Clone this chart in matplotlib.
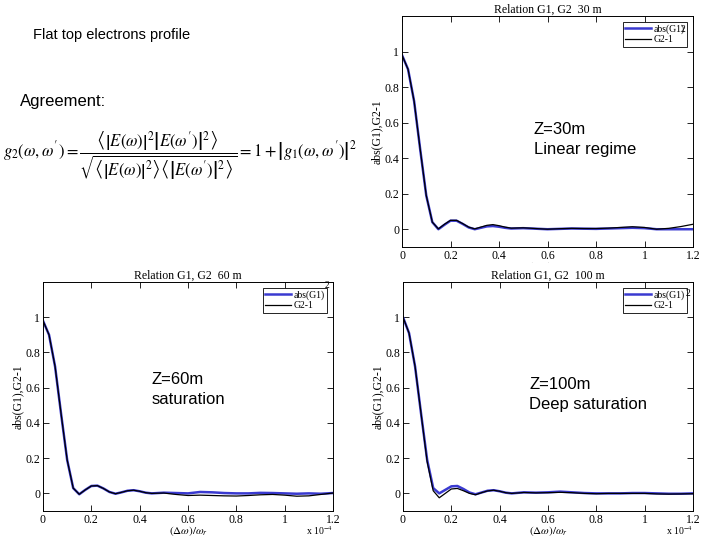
import matplotlib
matplotlib.use('Agg')
import matplotlib.pyplot as plt
from matplotlib.patches import Rectangle

# ---------------- data ----------------
x_vals = [0, 0.025, 0.05, 0.075, 0.1, 0.125, 0.15, 0.175, 0.2, 0.225, 0.25, 0.275,
          0.3, 0.325, 0.35, 0.375, 0.4, 0.425, 0.45, 0.5, 0.55, 0.6, 0.65, 0.7,
          0.75, 0.8, 0.85, 0.9, 0.95, 1.0, 1.05, 1.1, 1.15, 1.2]

g1_30 = [0.98, 0.90, 0.72, 0.45, 0.19, 0.04, 0.0, 0.025, 0.048, 0.048, 0.03, 0.01,
         0.0, 0.008, 0.016, 0.018, 0.014, 0.008, 0.004, 0.006, 0.003, 0.0, 0.002, 0.004,
         0.003, 0.002, 0.004, 0.006, 0.008, 0.006, 0.0, 0.0, 0.0, 0.0]
g2_30 = [0.98, 0.90, 0.72, 0.45, 0.19, 0.04, 0.002, 0.028, 0.05, 0.05, 0.032, 0.012,
         0.002, 0.012, 0.022, 0.026, 0.02, 0.012, 0.006, 0.008, 0.004, 0.0, 0.003, 0.005,
         0.004, 0.004, 0.006, 0.01, 0.014, 0.01, 0.0, 0.005, 0.015, 0.028]

g1_60 = [0.98, 0.90, 0.72, 0.45, 0.19, 0.03, -0.005, 0.02, 0.042, 0.044, 0.028, 0.008,
         -0.002, 0.006, 0.015, 0.018, 0.012, 0.004, 0.0, 0.004, 0.002, 0.0, 0.008, 0.006,
         0.002, 0.0, 0.0, 0.003, 0.002, 0.0, -0.002, 0.0, -0.002, 0.002]
g2_60 = [0.98, 0.90, 0.72, 0.45, 0.19, 0.03, -0.005, 0.02, 0.042, 0.044, 0.028, 0.008,
         -0.002, 0.006, 0.015, 0.018, 0.012, 0.004, 0.0, 0.002, -0.006, -0.012, -0.01, -0.012,
         -0.014, -0.015, -0.012, -0.008, -0.006, -0.01, -0.016, -0.014, -0.006, 0.002]

g1_100 = [1.0, 0.91, 0.72, 0.45, 0.19, 0.03, 0.0, 0.02, 0.04, 0.042, 0.025, 0.005,
          -0.005, 0.005, 0.015, 0.018, 0.012, 0.004, 0.0, 0.006, 0.004, 0.006, 0.01, 0.006,
          0.002, 0.0, 0.0, 0.0, 0.002, 0.002, 0.0, -0.002, -0.002, 0.0]
g2_100 = [1.0, 0.91, 0.72, 0.45, 0.18, 0.015, -0.025, 0.0, 0.025, 0.028, 0.015, 0.0,
          -0.008, 0.004, 0.014, 0.018, 0.012, 0.004, 0.0, 0.005, 0.003, 0.004, 0.006, 0.004,
          0.0, -0.002, 0.0, 0.0, 0.0, 0.0, -0.003, -0.004, -0.003, -0.002]

x_ticks = [0, 0.2, 0.4, 0.6, 0.8, 1.0, 1.2]
x_tick_labels = ['0', '0.2', '0.4', '0.6', '0.8', '1', '1.2']
y_ticks = [0, 0.2, 0.4, 0.6, 0.8, 1.0]
y_tick_labels = ['0', '0.2', '0.4', '0.6', '0.8', '1']

titles = ['Relation G1, G2  30 m', 'Relation G1, G2  60 m', 'Relation G1, G2  100 m']
notes = [('Z=30m', 'Linear regime'), ('Z=60m', 'saturation'), ('Z=100m', 'Deep saturation')]
legend_labels = ['abs(G1)', 'G2-1']

# ---------------- style ----------------
plt.rcParams['mathtext.fontset'] = 'stix'
SERIF = 'Liberation Serif'
SANS = 'Liberation Sans'
W, H = 720, 540

fig = plt.figure(figsize=(7.2, 5.4), dpi=100)


def rect(l, t, r, b):
    return [l / W, 1 - b / H, (r - l) / W, (b - t) / H]


def fx(p):
    return p / W


def fy(p):
    return 1 - p / H


panels = [
    dict(rect=rect(402, 16, 693, 247), g1=g1_30, g2=g2_30, title=titles[0], note=notes[0],
         note_xy=(534, 134), two=(683, 29), xlab=False),
    dict(rect=rect(43, 282, 333, 511), g1=g1_60, g2=g2_60, title=titles[1], note=notes[1],
         note_xy=(152, 384), two=(327, 285), xlab=True),
    dict(rect=rect(403, 282, 693, 511), g1=g1_100, g2=g2_100, title=titles[2], note=notes[2],
         note_xy=(529, 389), two=(688, 293), xlab=True),
]

for p in panels:
    ax = fig.add_axes(p['rect'])
    ax.plot(x_vals, p['g1'], color='#3a3ad0', lw=1.8, label=legend_labels[0], zorder=2)
    ax.plot(x_vals, p['g2'], color='black', lw=0.9, label=legend_labels[1], zorder=3)
    ax.set_xlim(0, 1.2)
    ax.set_ylim(-0.1, 1.2)
    ax.set_xticks(x_ticks)
    ax.set_xticklabels(x_tick_labels, fontfamily=SERIF, fontsize=8.5)
    ax.set_yticks(y_ticks)
    ax.set_yticklabels(y_tick_labels, fontfamily=SERIF, fontsize=8.5)
    ax.tick_params(direction='in', length=4, width=0.6, top=True, right=True, pad=2)
    for s in ax.spines.values():
        s.set_linewidth(0.7)
    ax.set_title(p['title'], fontfamily=SERIF, fontsize=8.5, pad=2.5)
    ax.set_ylabel('abs(G1),G2-1', fontfamily=SERIF, fontsize=8.5, labelpad=1)
    leg = ax.legend(loc='upper right', fancybox=False, edgecolor='black',
                    prop={'family': SERIF, 'size': 7}, handlelength=2.6,
                    borderaxespad=0.6, borderpad=0.25, labelspacing=0.15,
                    handletextpad=0.3, framealpha=1)
    leg.get_frame().set_linewidth(0.6)
    fig.text(fx(p['two'][0]), fy(p['two'][1]), '2', fontfamily=SERIF, fontsize=7,
             ha='center', va='center')
    if p['xlab']:
        ax.set_xlabel(r'$(\Delta\omega)/\omega_r$', fontsize=8, labelpad=-1)
        right_px = p['rect'][0] * W + p['rect'][2] * W
        fig.text(fx(right_px), fy(531), r'x 10$^{-4}$', ha='right', va='center',
                 fontfamily=SERIF, fontsize=7)
    else:
        t = fig.text(fx(547), fy(267), r'$(\Delta\omega)/\omega_r$', fontsize=8,
                     ha='center', va='center')
        clip = Rectangle((0, fy(263)), 1, 1, transform=fig.transFigure)
        t.set_clip_path(clip)
    nx, ny = p['note_xy']
    fig.text(fx(nx), fy(ny), p['note'][0], fontfamily=SANS, fontsize=12, va='baseline')
    fig.text(fx(nx), fy(ny + 20), p['note'][1], fontfamily=SANS, fontsize=12, va='baseline')

# ---------------- slide texts ----------------
fig.text(fx(33), fy(39), 'Flat top electrons profile', fontfamily=SANS, fontsize=10.5,
         va='baseline')
fig.text(fx(20), fy(106), 'Agreement:', fontfamily=SANS, fontsize=12, va='baseline')

formula = (r"$g_2(\omega,\omega') = "
           r"\dfrac{\left\langle \left|E(\omega)\right|^2 \left|E(\omega')\right|^2 \right\rangle}"
           r"{\sqrt{\left\langle\left|E(\omega)\right|^2\right\rangle"
           r"\left\langle\left|E(\omega')\right|^2\right\rangle}}"
           r" = 1+\left|g_1(\omega,\omega')\right|^2$")
fig.text(fx(3), fy(156), formula, fontsize=12, ha='left', va='center')

fig.savefig('out.png', dpi=100)
